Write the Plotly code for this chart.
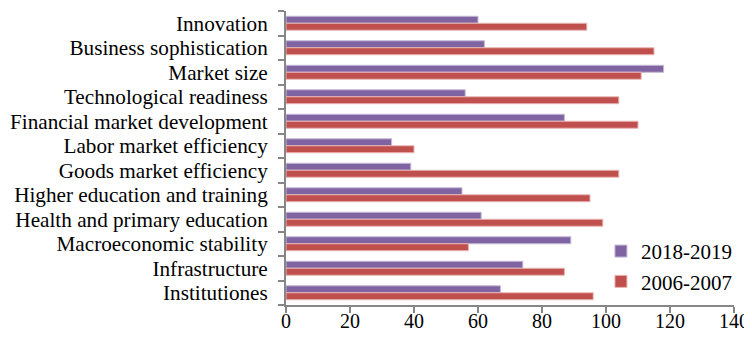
import plotly.graph_objects as go

categories = ["Innovation", "Business sophistication", "Market size", "Technological readiness",
              "Financial market development", "Labor market efficiency", "Goods market efficiency",
              "Higher education and training", "Health and primary education", "Macroeconomic stability",
              "Infrastructure", "Institutiones"]
values_2018_2019 = [60, 62, 118, 56, 87, 33, 39, 55, 61, 89, 74, 67]
values_2006_2007 = [94, 115, 111, 104, 110, 40, 104, 95, 99, 57, 87, 96]
x_ticks = [0, 20, 40, 60, 80, 100, 120, 140]

FONT = "Liberation Serif, Times New Roman, serif"
AXIS = "#868686"

fig = go.Figure()
fig.add_trace(go.Bar(
    y=categories, x=values_2018_2019, orientation="h", name="2018-2019",
    marker=dict(color="#8064A2", line=dict(color="#C5B8D8", width=1)),
))
fig.add_trace(go.Bar(
    y=categories, x=values_2006_2007, orientation="h", name="2006-2007",
    marker=dict(color="#C0504D", line=dict(color="#E8B4B3", width=1)),
))

# page body has an 8px margin, so the figure is drawn 8px right/down;
# keep the figure small enough that the page does not scroll
fig.update_layout(
    width=744, height=324,
    margin=dict(l=278, r=18, t=3, b=27, autoexpand=False),
    paper_bgcolor="white", plot_bgcolor="white",
    barmode="group", bargap=0.43, bargroupgap=0,
    font=dict(family=FONT, size=21, color="black"),
    showlegend=True,
    legend=dict(x=0.703, y=0.252, xanchor="left", yanchor="top",
                bgcolor="rgba(0,0,0,0)", font=dict(size=21, family=FONT),
                traceorder="normal", itemwidth=30),
)
fig.update_yaxes(
    type="category", autorange="reversed", automargin=False,
    tickmode="array", tickvals=categories, ticktext=categories,
    showline=True, linecolor=AXIS, linewidth=2,
    ticks="outside", ticklen=6, tickcolor=AXIS, tickwidth=2,
    tickson="boundaries", showgrid=False, ticklabelstandoff=12,
    tickfont=dict(size=21.2, family=FONT),
)
fig.update_xaxes(
    range=[0, 140], tickvals=x_ticks, ticktext=[str(v) for v in x_ticks],
    automargin=False,
    showline=True, linecolor=AXIS, linewidth=2,
    ticks="outside", ticklen=6, tickcolor=AXIS, tickwidth=2,
    ticklabelstandoff=-9,
    showgrid=False, zeroline=False,
    tickfont=dict(size=20, family=FONT),
)

fig.write_html("out.html")
